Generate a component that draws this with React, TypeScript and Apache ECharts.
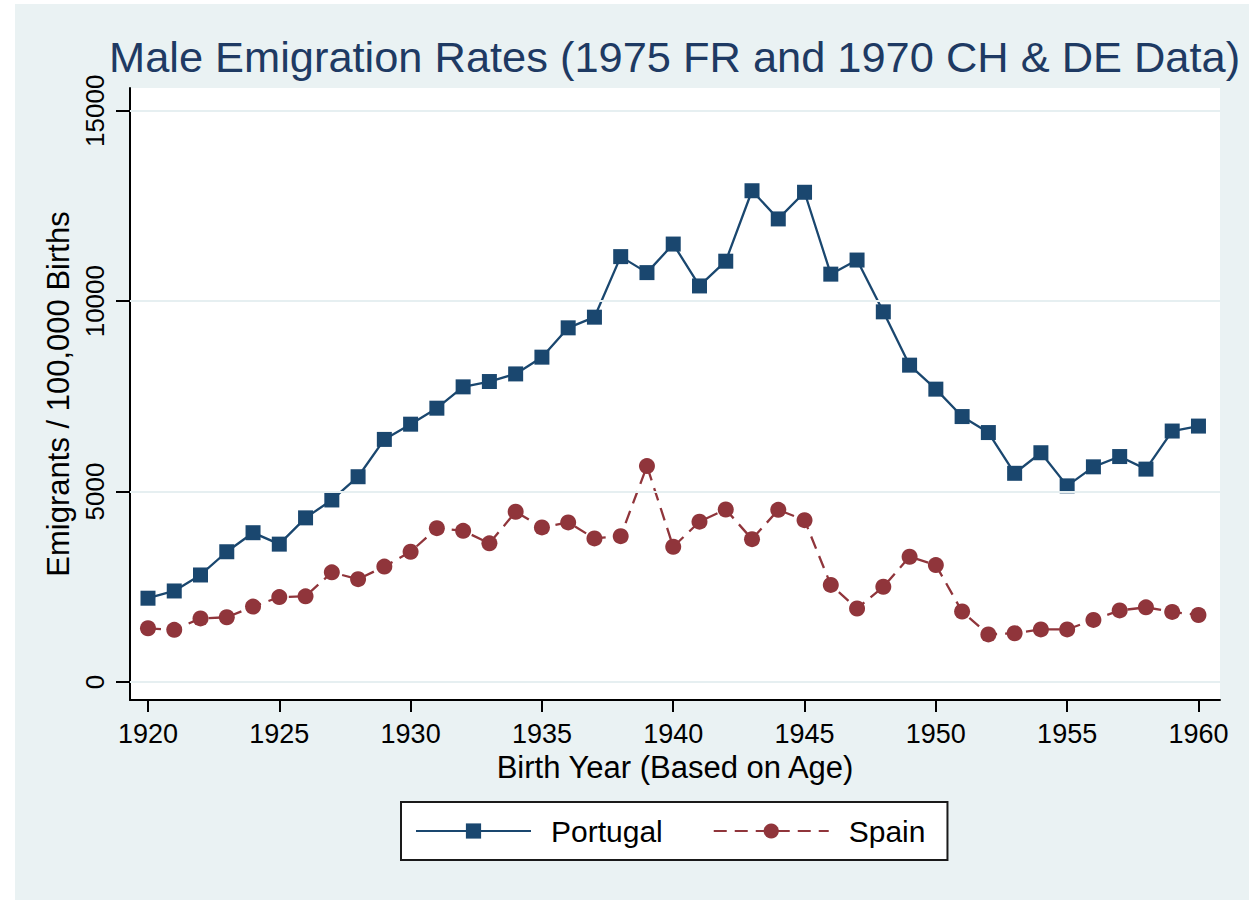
import React, { useEffect, useRef } from "react";
import * as echarts from "echarts";

const years = [
  1920, 1921, 1922, 1923, 1924, 1925, 1926, 1927, 1928, 1929,
  1930, 1931, 1932, 1933, 1934, 1935, 1936, 1937, 1938, 1939,
  1940, 1941, 1942, 1943, 1944, 1945, 1946, 1947, 1948, 1949,
  1950, 1951, 1952, 1953, 1954, 1955, 1956, 1957, 1958, 1959, 1960,
];

const portugal = [
  2200, 2390, 2810, 3420, 3920, 3620, 4310, 4780, 5390, 6370,
  6770, 7190, 7750, 7890, 8090, 8530, 9300, 9580, 11170, 10750,
  11500, 10400, 11050, 12900, 12160, 12860, 10710, 11080, 9720, 8320,
  7690, 6970, 6550, 5480, 6020, 5150, 5650, 5920, 5590, 6590, 6720,
];

const spain = [
  1410, 1370, 1670, 1700, 1980, 2230, 2250, 2880, 2700, 3030,
  3420, 4040, 3970, 3640, 4470, 4060, 4190, 3770, 3830, 5670,
  3550, 4210, 4530, 3750, 4520, 4250, 2550, 1930, 2500, 3290,
  3070, 1850, 1250, 1280, 1380, 1380, 1630, 1880, 1960, 1840, 1760,
];

const xTicks = [1920, 1925, 1930, 1935, 1940, 1945, 1950, 1955, 1960];
const yTicks = [0, 5000, 10000, 15000];
const seriesNames = ["Portugal", "Spain"];

const FONT = '"Liberation Sans", Arial, Helvetica, sans-serif';

export default function App() {
  const ref = useRef<HTMLDivElement>(null);

  useEffect(() => {
    document.body.style.margin = "0";
    if (!ref.current) return;
    const chart = echarts.init(ref.current, undefined, { renderer: "svg" });

    const option = {
      animation: false,
      backgroundColor: "#EAF2F3",
      textStyle: { fontFamily: FONT },
      graphic: [
        { type: "rect", shape: { x: 0, y: 0, width: 15, height: 900 }, style: { fill: "#ffffff" }, silent: true },
        { type: "rect", shape: { x: 0, y: 0, width: 1249, height: 4 }, style: { fill: "#ffffff" }, silent: true },
      ],
      title: {
        text: "Male Emigration Rates (1975 FR and 1970 CH & DE Data)",
        left: 104,
        top: 30,
        textStyle: { fontSize: 43.4, fontWeight: "normal", color: "#1E3A63", fontFamily: FONT },
      },
      grid: {
        left: 130,
        top: 88,
        width: 1090,
        height: 612,
        show: true,
        backgroundColor: "#ffffff",
        borderWidth: 0,
      },
      legend: {
        data: seriesNames,
        left: 401,
        top: 802,
        orient: "horizontal",
        itemWidth: 115,
        itemHeight: 19,
        itemGap: 50,
        padding: [14, 22, 14, 14],
        backgroundColor: "#ffffff",
        borderColor: "#1a1a1a",
        borderWidth: 2,
        textStyle: { fontSize: 30, color: "#000", fontFamily: FONT, padding: [0, 0, 0, 15] },
      },
      xAxis: {
        type: "value",
        min: 1919.315,
        max: 1960.82,
        name: "Birth Year (Based on Age)",
        nameLocation: "middle",
        nameGap: 50,
        nameTextStyle: { fontSize: 31, color: "#000", fontFamily: FONT },
        axisLine: { show: true, onZero: false, lineStyle: { color: "#000", width: 2 } },
        axisTick: { show: true, customValues: xTicks, length: 12, lineStyle: { color: "#000", width: 2 } },
        axisLabel: {
          customValues: xTicks,
          fontSize: 27,
          color: "#000",
          margin: 20,
          fontFamily: FONT,
          formatter: (v: number) => String(v),
        },
        splitLine: { show: false },
      },
      yAxis: {
        type: "value",
        min: -473,
        max: 15598,
        name: "Emigrants / 100,000 Births",
        nameLocation: "middle",
        nameGap: 44,
        nameTextStyle: { fontSize: 31, color: "#000", fontFamily: FONT },
        axisLine: { show: true, onZero: false, lineStyle: { color: "#000", width: 2 } },
        axisTick: { show: true, customValues: yTicks, length: 14, lineStyle: { color: "#000", width: 2 } },
        axisLabel: {
          customValues: yTicks,
          rotate: 90,
          fontSize: 26,
          color: "#000",
          margin: 22,
          fontFamily: FONT,
          formatter: (v: number) => String(v),
        },
        splitLine: { show: false },
      },
      series: [
        {
          name: "grid",
          type: "line",
          data: [],
          z: 1,
          silent: true,
          markLine: {
            silent: true,
            symbol: ["none", "none"],
            label: { show: false },
            lineStyle: { color: "#E6EFF1", width: 2, type: "solid" },
            data: yTicks.map((v) => ({ yAxis: v })),
          },
        },
        {
          name: seriesNames[0],
          type: "line",
          z: 3,
          data: years.map((y, i) => [y, portugal[i]]),
          symbol: "rect",
          symbolSize: 15,
          itemStyle: { color: "#1A476F" },
          lineStyle: { color: "#1A476F", width: 2.3 },
        },
        {
          name: seriesNames[1],
          type: "line",
          z: 4,
          data: years.map((y, i) => [y, spain[i]]),
          symbol: "circle",
          symbolSize: 16,
          itemStyle: { color: "#90353B" },
          lineStyle: { color: "#90353B", width: 2.3, type: [13, 8] },
        },
      ],
    };

    chart.setOption(option as any);
    return () => chart.dispose();
  }, []);

  return <div ref={ref} style={{ width: 1249, height: 900 }} />;
}
